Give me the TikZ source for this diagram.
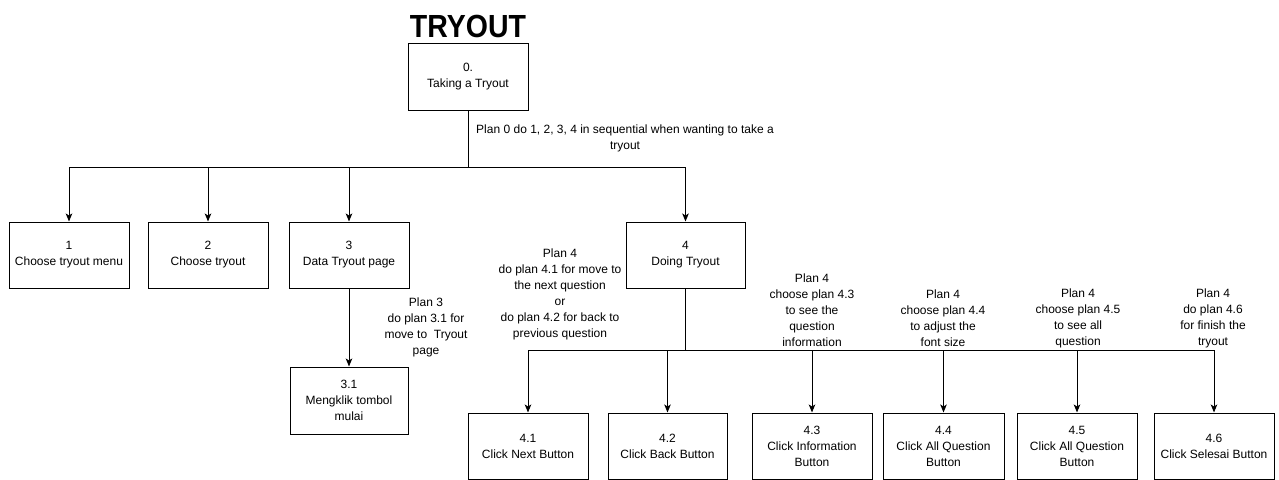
\documentclass[tikz,border=0pt]{standalone}
\usepackage{fontspec}
\setmainfont{Liberation Sans}
\usetikzlibrary{arrows.meta}
\begin{document}
\begin{tikzpicture}[x=1pt,y=-1pt,
  taskbox/.style={draw=black,line width=1pt,minimum width=120pt,minimum height=66pt,inner sep=0pt,align=center,font=\fontsize{12}{16}\selectfont},
  planlabel/.style={align=center,inner sep=0pt,font=\fontsize{12}{16}\selectfont},
  conn/.style={draw=black,line width=1pt},
  arr/.style={conn,-{Stealth[length=8pt,width=6.5pt,inset=2pt]}}]
\useasboundingbox (0,0) rectangle (1279,479);
% title
\node[anchor=base,inner sep=0pt,font=\fontsize{32}{32}\selectfont\bfseries] (title) at (468,37) {\scalebox{0.89}[1]{TRYOUT}};
% boxes
\node[taskbox,minimum height=67pt] (b0) at (468,76.5) {0.\\Taking a Tryout};
\node[taskbox] (b1) at (69,255) {1\\Choose tryout menu};
\node[taskbox] (b2) at (208,255) {2\\Choose tryout};
\node[taskbox] (b3) at (349,255) {3\\Data Tryout page};
\node[taskbox,minimum width=119pt] (b4) at (685.5,255) {4\\Doing Tryout};
\node[taskbox,minimum width=118pt,minimum height=67pt] (b31) at (349,400.5) {3.1\\Mengklik tombol\\mulai};
\node[taskbox] (b41) at (528,446) {4.1\\Click Next Button};
\node[taskbox,minimum width=119pt] (b42) at (667.5,446) {4.2\\Click Back Button};
\node[taskbox] (b43) at (812,446) {4.3\\Click Information\\Button};
\node[taskbox,minimum width=121pt] (b44) at (943.5,446) {4.4\\Click All Question\\Button};
\node[taskbox] (b45) at (1077,446) {4.5\\Click All Question\\Button};
\node[taskbox] (b46) at (1214,446) {4.6\\Click Selesai Button};
% plan labels
\node[planlabel] (p0) at (625,138) {Plan 0 do 1, 2, 3, 4 in sequential when wanting to take a\\tryout};
\node[planlabel] (p3) at (426,327.5) {Plan 3\\do plan 3.1 for\\move to\ \ Tryout\\page};
\node[planlabel] (p4a) at (560,294) {Plan 4\\do plan 4.1 for move to\\the next question\\or\\do plan 4.2 for back to\\previous question};
\node[planlabel] (p4b) at (812,310) {Plan 4\\choose plan 4.3\\to see the\\question\\information};
\node[planlabel] (p4c) at (943,318) {Plan 4\\choose plan 4.4\\to adjust the\\font size};
\node[planlabel] (p4d) at (1078,318) {Plan 4\\choose plan 4.5\\to see all\\question};
\node[planlabel] (p4e) at (1213,318) {Plan 4\\do plan 4.6\\for finish the\\tryout};
% junctions
\coordinate (j0) at (468,167);
\coordinate (j4) at (685.5,350);
% connectors
\draw[conn] (b0) -- (j0);
\draw[arr] (j0) -| (b1);
\draw[arr] (j0) -| (b2);
\draw[arr] (j0) -| (b3);
\draw[arr] (j0) -| (b4);
\draw[arr] (b3) -- (b31);
\draw[conn] (b4) -- (j4);
\draw[arr] (j4) -| (b41);
\draw[arr] (j4) -| (b42);
\draw[arr] (j4) -| (b43);
\draw[arr] (j4) -| (b44);
\draw[arr] (j4) -| (b45);
\draw[arr] (j4) -| (b46);
\end{tikzpicture}
\end{document}
